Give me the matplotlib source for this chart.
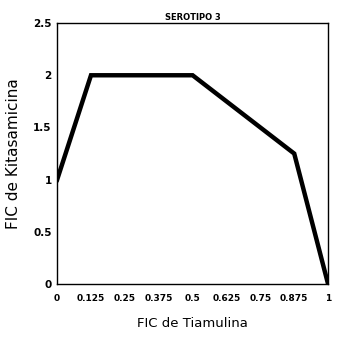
import matplotlib
matplotlib.use("Agg")
import matplotlib.pyplot as plt

fic_tiamulina = [0, 0.125, 0.5, 0.875, 1]
fic_kitasamicina = [1, 2, 2, 1.25, 0]
x_ticks = [0, 0.125, 0.25, 0.375, 0.5, 0.625, 0.75, 0.875, 1]
x_tick_labels = ["0", "0.125", "0.25", "0.375", "0.5", "0.625", "0.75", "0.875", "1"]
y_ticks = [0, 0.5, 1, 1.5, 2, 2.5]
y_tick_labels = ["0", "0.5", "1", "1.5", "2", "2.5"]

fig = plt.figure(figsize=(3.4, 3.44), dpi=100)
ax = fig.add_axes([0.168, 0.174, 0.797, 0.759])

ax.plot(fic_tiamulina, fic_kitasamicina, color="black", lw=3.2, solid_joinstyle="miter")
ax.set_xlim(0, 1)
ax.set_ylim(0, 2.5)
ax.set_xticks(x_ticks)
ax.set_xticklabels(x_tick_labels, fontsize=6.5, fontweight="bold")
ax.set_yticks(y_ticks)
ax.set_yticklabels(y_tick_labels, fontsize=7.5, fontweight="bold")
ax.tick_params(axis="x", length=0, pad=7)
ax.tick_params(axis="y", length=0, pad=4)
for s in ax.spines.values():
    s.set_linewidth(1.0)

ax.set_title("SEROTIPO 3", fontsize=6, fontweight="bold", pad=2)
ax.set_xlabel("FIC de Tiamulina", fontsize=9.5, labelpad=10)
ax.set_ylabel("FIC de Kitasamicina", fontsize=11, labelpad=9)

fig.savefig("out.png", dpi=100)
plt.close()
